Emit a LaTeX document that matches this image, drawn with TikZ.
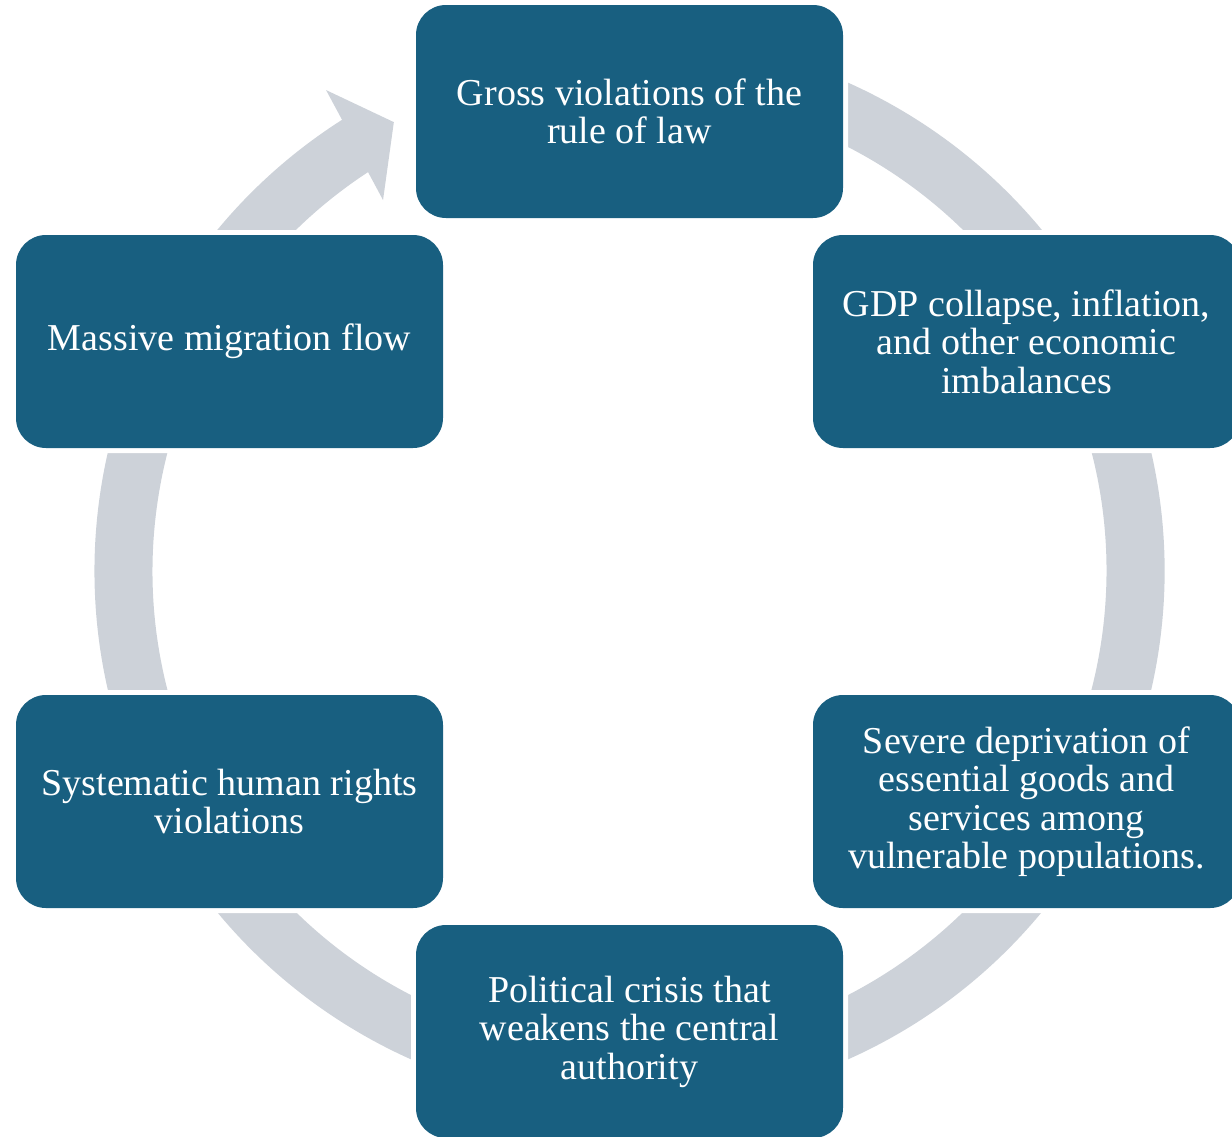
\documentclass[tikz,border=0pt]{standalone}
\usepackage{fontspec}
\setmainfont{Liberation Serif}
\usetikzlibrary{calc}
\definecolor{boxblue}{RGB}{24,95,128}
\definecolor{ringgray}{RGB}{205,210,217}
\tikzstyle{box}=[rounded corners=15pt, fill=boxblue, text=white, align=center, minimum width=213.5pt, minimum height=106.5pt, font=\fontsize{19}{19.25}\selectfont, preaction={draw=white, line width=5pt}]
\tikzstyle{ring}=[fill=ringgray]
\begin{document}
\begin{tikzpicture}[x=0.5pt, y=-0.5pt]
\useasboundingbox (0,0) rectangle (1232,1136);
\coordinate (O) at (629.5,571);
% ring with the arrow head at the top left
\fill[ring] ($(O)+(250:535)$) arc[start angle=250, end angle=597.5, radius=535]
  -- ($(O)+(237.75:568.7)$) -- ($(O)+(242.3:507)$) -- ($(O)+(236.4:445.4)$)
  -- ($(O)+(236.76:477)$) arc[start angle=596.76, end angle=250, radius=477] -- cycle;
\node[box] at (629.5,111.5) (Box0) {Gross violations of the\\rule of law};
\node[box] at (1026.5,341.5) (Box1) {GDP collapse, inflation,\\and other economic\\imbalances};
\node[box] at (1026.5,801.5) (Box2) {Severe deprivation of\\essential goods and\\services among\\vulnerable populations.};
\node[box] at (629.5,1031.5) (Box3) {Political crisis that\\weakens the central\\authority};
\node[box] at (229.5,801.5) (Box4) {Systematic human rights\\violations};
\node[box] at (229.5,341.5) (Box5) {Massive migration flow};
\end{tikzpicture}
\end{document}
